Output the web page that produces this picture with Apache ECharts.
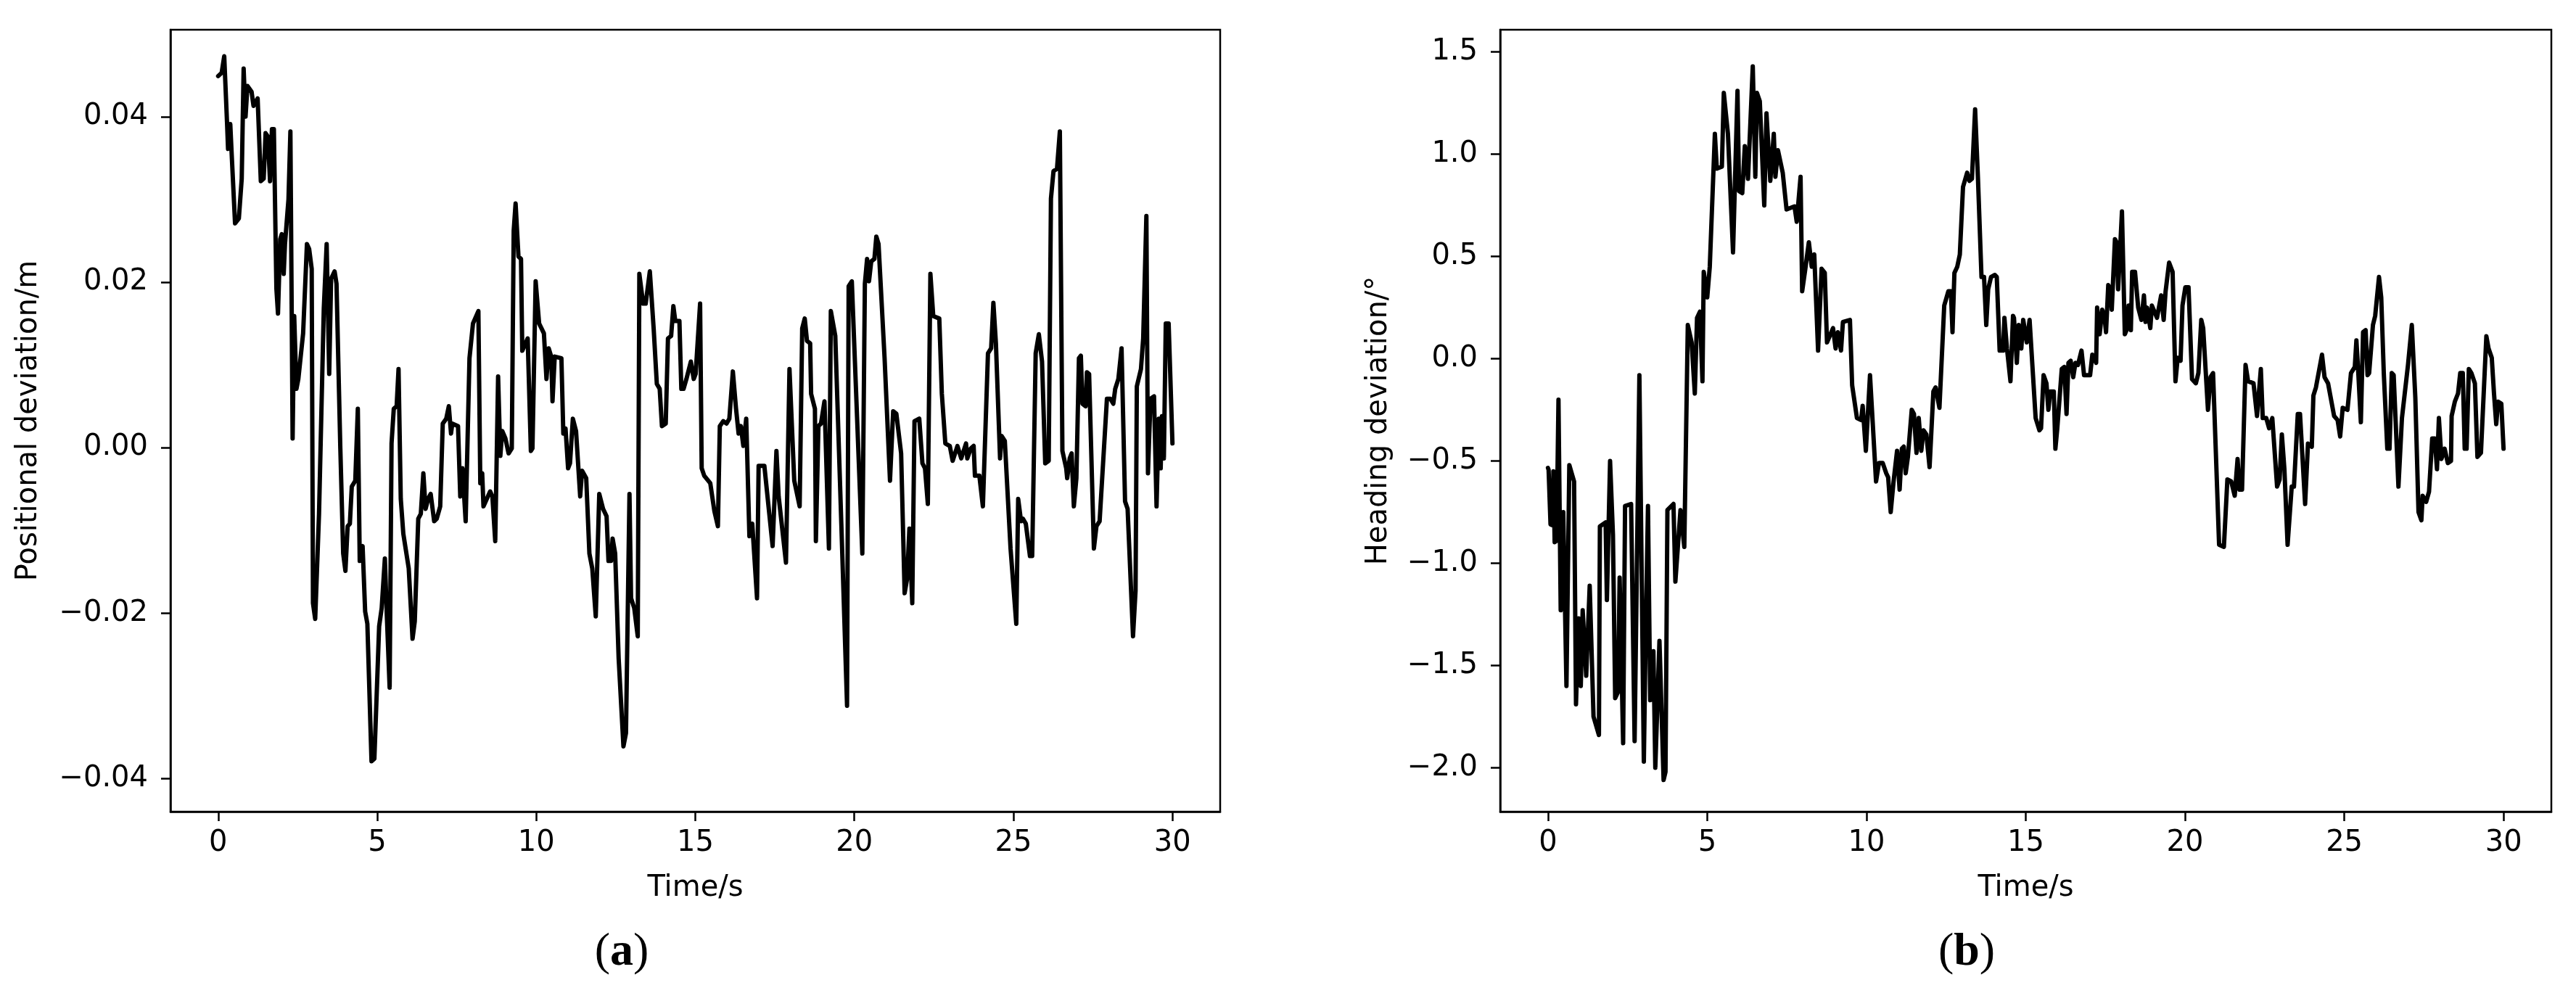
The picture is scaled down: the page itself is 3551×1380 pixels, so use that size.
<!DOCTYPE html>
<html>
<head>
<meta charset="utf-8">
<script src="https://cdn.jsdelivr.net/npm/echarts@6/dist/echarts.min.js"></script>
<style>
html,body{margin:0;padding:0;background:#fff;}
#chart{width:3551px;height:1380px;}
</style>
</head>
<body>
<div id="chart"></div>
<script>
// ---- data: [time (s), value] ----
const positionalDeviation = [
[0,0.0449],[0.11,0.0453],[0.19,0.0473],[0.28,0.0391],[0.31,0.0361],[0.38,0.0391],[0.42,0.0358],[0.53,0.0271],[0.65,0.0277],[0.74,0.0325],
[0.80,0.0458],[0.86,0.0400],[0.92,0.0437],[1.05,0.0430],[1.11,0.0413],[1.24,0.0422],[1.34,0.0322],[1.43,0.0325],[1.49,0.0380],[1.56,0.0376],
[1.63,0.0322],[1.69,0.0385],[1.75,0.0385],[1.83,0.0192],[1.88,0.0162],[1.95,0.0252],[2.00,0.0258],[2.06,0.0210],[2.10,0.0246],[2.21,0.0300],
[2.27,0.0382],[2.34,0.0011],[2.39,0.0159],[2.46,0.0071],[2.52,0.0083],[2.67,0.0138],[2.79,0.0246],[2.86,0.0240],[2.94,0.0216],[2.98,-0.0188],
[3.05,-0.0207],[3.17,-0.0080],[3.32,0.0168],[3.41,0.0246],[3.49,0.0089],[3.55,0.0204],[3.66,0.0213],[3.72,0.0198],[3.84,-0.0001],[3.93,-0.0128],
[4.00,-0.0149],[4.07,-0.0095],[4.14,-0.0092],[4.20,-0.0047],[4.31,-0.0040],[4.39,0.0047],[4.45,-0.0137],[4.54,-0.0119],[4.62,-0.0198],[4.69,-0.0213],
[4.82,-0.0379],[4.91,-0.0376],[5.06,-0.0216],[5.14,-0.0194],[5.24,-0.0134],[5.30,-0.0201],[5.39,-0.0290],[5.45,0.0005],[5.52,0.0047],[5.61,0.0050],
[5.67,0.0095],[5.74,-0.0062],[5.82,-0.0104],[5.99,-0.0146],[6.11,-0.0231],[6.18,-0.0210],[6.29,-0.0086],[6.37,-0.0080],[6.45,-0.0031],[6.52,-0.0074],
[6.60,-0.0062],[6.68,-0.0056],[6.79,-0.0089],[6.87,-0.0086],[6.98,-0.0071],[7.06,0.0029],[7.17,0.0035],[7.25,0.0050],[7.32,0.0017],[7.36,0.0029],
[7.54,0.0026],[7.61,-0.0059],[7.68,-0.0025],[7.78,-0.0089],[7.90,0.0108],[8.01,0.0150],[8.18,0.0165],[8.24,-0.0043],[8.30,-0.0031],[8.34,-0.0071],
[8.55,-0.0053],[8.62,-0.0059],[8.71,-0.0113],[8.80,0.0086],[8.87,-0.0010],[8.93,0.0020],[9.03,0.0011],[9.13,-0.0007],[9.23,-0.0001],[9.29,0.0262],
[9.35,0.0295],[9.44,0.0231],[9.52,0.0228],[9.56,0.0117],[9.73,0.0132],[9.83,-0.0004],[9.88,-0.0001],[9.98,0.0201],[10.09,0.0150],[10.24,0.0138],
[10.32,0.0083],[10.39,0.0120],[10.47,0.0110],[10.51,0.0056],[10.58,0.0110],[10.79,0.0108],[10.85,0.0017],[10.92,0.0023],[11.00,-0.0025],[11.06,-0.0019],
[11.15,0.0035],[11.25,0.0020],[11.38,-0.0059],[11.44,-0.0028],[11.57,-0.0037],[11.67,-0.0128],[11.76,-0.0146],[11.87,-0.0204],[11.98,-0.0056],[12.10,-0.0074],
[12.21,-0.0083],[12.27,-0.0137],[12.35,-0.0137],[12.40,-0.0110],[12.48,-0.0128],[12.59,-0.0255],[12.74,-0.0361],[12.82,-0.0345],[12.93,-0.0056],[12.98,-0.0182],
[13.08,-0.0194],[13.19,-0.0228],[13.24,0.0210],[13.36,0.0174],[13.44,0.0174],[13.57,0.0213],[13.69,0.0144],[13.79,0.0077],[13.88,0.0071],[13.95,0.0026],
[14.07,0.0029],[14.14,0.0132],[14.24,0.0135],[14.31,0.0171],[14.37,0.0153],[14.50,0.0153],[14.56,0.0071],[14.63,0.0071],[14.72,0.0083],[14.86,0.0104],
[14.95,0.0083],[15.01,0.0089],[15.15,0.0174],[15.20,-0.0025],[15.28,-0.0034],[15.47,-0.0043],[15.60,-0.0077],[15.71,-0.0095],[15.77,0.0026],[15.88,0.0032],
[15.98,0.0029],[16.07,0.0035],[16.18,0.0092],[16.28,0.0047],[16.36,0.0017],[16.43,0.0026],[16.51,0.0002],[16.60,0.0035],[16.70,-0.0107],[16.79,-0.0092],
[16.94,-0.0182],[16.99,-0.0022],[17.17,-0.0022],[17.43,-0.0119],[17.55,-0.0004],[17.62,-0.0059],[17.85,-0.0139],[17.96,0.0095],[18.11,-0.0040],[18.28,-0.0071],
[18.36,0.0144],[18.44,0.0156],[18.51,0.0129],[18.61,0.0126],[18.64,0.0065],[18.76,0.0047],[18.79,-0.0113],[18.87,0.0026],[18.95,0.0029],[19.06,0.0056],
[19.20,-0.0122],[19.26,0.0165],[19.40,0.0135],[19.59,-0.0092],[19.77,-0.0312],[19.82,0.0195],[19.92,0.0201],[20.25,-0.0128],[20.33,0.0198],[20.40,0.0228],
[20.46,0.0201],[20.53,0.0225],[20.63,0.0228],[20.69,0.0255],[20.76,0.0246],[20.95,0.0108],[21.12,-0.0040],[21.22,0.0044],[21.32,0.0041],[21.47,-0.0007],
[21.58,-0.0176],[21.66,-0.0158],[21.73,-0.0098],[21.82,-0.0188],[21.89,0.0032],[22.04,0.0035],[22.14,-0.0019],[22.22,-0.0025],[22.31,-0.0068],[22.39,0.0210],
[22.48,0.0159],[22.67,0.0156],[22.75,0.0065],[22.86,0.0005],[23.00,0.0002],[23.09,-0.0016],[23.24,0.0002],[23.36,-0.0013],[23.51,0.0005],[23.55,-0.0013],
[23.66,-0.0001],[23.75,0.0002],[23.79,-0.0034],[23.93,-0.0034],[24.04,-0.0071],[24.20,0.0114],[24.30,0.0120],[24.37,0.0175],[24.45,0.0126],[24.58,-0.0013],
[24.63,0.0014],[24.73,0.0008],[24.91,-0.0122],[25.09,-0.0213],[25.15,-0.0062],[25.24,-0.0089],[25.30,-0.0086],[25.39,-0.0092],[25.52,-0.0131],[25.59,-0.0131],
[25.70,0.0114],[25.80,0.0137],[25.90,0.0104],[26.00,-0.0019],[26.11,-0.0016],[26.18,0.0301],[26.26,0.0334],[26.37,0.0337],[26.46,0.0382],[26.54,-0.0004],
[26.66,-0.0025],[26.69,-0.0037],[26.77,-0.0013],[26.83,-0.0007],[26.90,-0.0071],[26.98,-0.0037],[27.06,0.0108],[27.12,0.0111],[27.17,0.0053],[27.27,0.0050],
[27.31,0.0091],[27.38,0.0089],[27.53,-0.0122],[27.61,-0.0095],[27.71,-0.0089],[27.94,0.0059],[28.05,0.0059],[28.14,0.0053],[28.20,0.0071],[28.30,0.0083],
[28.40,0.0120],[28.51,-0.0065],[28.59,-0.0074],[28.76,-0.0228],[28.84,-0.0173],[28.88,0.0074],[29.01,0.0095],[29.08,0.0132],[29.18,0.0280],[29.23,-0.0031],
[29.31,0.0059],[29.42,0.0062],[29.50,-0.0071],[29.57,0.0035],[29.63,-0.0025],[29.67,0.0038],[29.73,-0.0013],[29.79,0.0150],[29.88,0.0150],[30.00,0.0005]
];

const headingDeviation = [
[0.00,-0.534],[0.02,-0.543],[0.08,-0.81],[0.15,-0.815],[0.17,-0.55],[0.21,-0.897],[0.27,-0.89],[0.33,-0.20],[0.40,-1.23],[0.48,-0.75],
[0.58,-1.60],[0.67,-0.52],[0.82,-0.60],[0.88,-1.69],[0.96,-1.27],[1.03,-1.60],[1.09,-1.23],[1.20,-1.55],[1.31,-1.11],[1.43,-1.75],
[1.60,-1.84],[1.63,-0.82],[1.81,-0.80],[1.85,-1.18],[1.95,-0.50],[2.04,-0.86],[2.11,-1.66],[2.20,-1.63],[2.25,-1.07],[2.36,-1.88],
[2.42,-0.72],[2.61,-0.71],[2.72,-1.87],[2.87,-0.08],[3.01,-1.97],[3.06,-1.43],[3.14,-0.72],[3.21,-1.67],[3.31,-1.43],[3.37,-2.00],
[3.50,-1.38],[3.63,-2.06],[3.69,-2.02],[3.75,-0.74],[3.94,-0.71],[4.00,-1.09],[4.16,-0.74],[4.28,-0.92],[4.39,0.165],[4.51,0.08],
[4.61,-0.17],[4.68,0.20],[4.77,0.23],[4.85,-0.11],[4.89,0.425],[5.00,0.30],[5.08,0.45],[5.24,1.10],[5.30,0.93],[5.46,0.94],
[5.52,1.30],[5.65,1.10],[5.81,0.52],[5.95,1.31],[6.00,0.82],[6.10,0.81],[6.18,1.04],[6.28,0.88],[6.43,1.43],[6.51,0.89],
[6.56,1.30],[6.65,1.26],[6.79,0.75],[6.86,1.20],[6.98,0.87],[7.09,1.10],[7.14,0.89],[7.22,1.02],[7.37,0.91],[7.49,0.73],
[7.74,0.745],[7.81,0.67],[7.93,0.89],[7.98,0.33],[8.08,0.44],[8.19,0.57],[8.28,0.45],[8.36,0.51],[8.48,0.04],[8.59,0.44],
[8.69,0.42],[8.76,0.08],[8.95,0.15],[9.03,0.05],[9.10,0.13],[9.20,0.04],[9.26,0.18],[9.48,0.19],[9.55,-0.13],[9.70,-0.29],
[9.83,-0.30],[9.88,-0.23],[9.98,-0.45],[10.11,-0.08],[10.30,-0.60],[10.39,-0.51],[10.51,-0.51],[10.62,-0.56],[10.68,-0.58],[10.76,-0.75],
[10.85,-0.60],[10.96,-0.45],[11.04,-0.64],[11.11,-0.44],[11.17,-0.43],[11.23,-0.56],[11.30,-0.48],[11.42,-0.25],[11.49,-0.27],[11.57,-0.46],
[11.64,-0.29],[11.72,-0.45],[11.79,-0.35],[11.88,-0.37],[11.98,-0.53],[12.10,-0.16],[12.17,-0.14],[12.29,-0.24],[12.44,0.26],[12.57,0.33],
[12.65,0.33],[12.70,0.13],[12.76,0.42],[12.85,0.45],[12.93,0.51],[13.03,0.84],[13.16,0.91],[13.23,0.87],[13.31,0.88],[13.41,1.22],
[13.50,0.88],[13.61,0.40],[13.69,0.40],[13.76,0.165],[13.82,0.34],[13.91,0.40],[14.03,0.41],[14.09,0.40],[14.18,0.04],[14.29,0.04],
[14.33,0.20],[14.41,0.05],[14.52,-0.11],[14.60,0.21],[14.63,0.20],[14.72,-0.02],[14.78,0.165],[14.86,0.05],[14.92,0.19],[15.03,0.08],
[15.12,0.19],[15.31,-0.29],[15.43,-0.35],[15.48,-0.34],[15.56,-0.08],[15.65,-0.12],[15.71,-0.25],[15.77,-0.16],[15.88,-0.16],[15.93,-0.44],
[15.99,-0.34],[16.13,-0.05],[16.21,-0.04],[16.28,-0.27],[16.34,-0.02],[16.41,-0.01],[16.49,-0.09],[16.56,-0.02],[16.64,-0.03],[16.75,0.04],
[16.83,-0.08],[17.02,-0.08],[17.09,0.02],[17.21,-0.02],[17.24,0.25],[17.32,0.12],[17.40,0.24],[17.47,0.21],[17.52,0.13],[17.59,0.36],
[17.66,0.34],[17.70,0.24],[17.80,0.585],[17.85,0.57],[17.90,0.34],[18.02,0.72],[18.11,0.12],[18.19,0.15],[18.23,0.26],[18.30,0.14],
[18.34,0.425],[18.43,0.425],[18.53,0.25],[18.63,0.19],[18.71,0.31],[18.76,0.18],[18.81,0.25],[18.91,0.15],[18.96,0.26],[19.12,0.20],
[19.25,0.31],[19.33,0.19],[19.39,0.33],[19.50,0.47],[19.61,0.425],[19.70,-0.11],[19.77,0.005],[19.86,-0.01],[19.92,0.26],[20.01,0.35],
[20.11,0.35],[20.22,-0.10],[20.34,-0.12],[20.42,-0.07],[20.51,0.19],[20.57,0.15],[20.72,-0.25],[20.80,-0.09],[20.88,-0.07],[21.07,-0.91],
[21.22,-0.92],[21.33,-0.59],[21.45,-0.60],[21.56,-0.67],[21.65,-0.49],[21.71,-0.64],[21.79,-0.64],[21.90,-0.03],[21.98,-0.11],[22.15,-0.12],
[22.26,-0.28],[22.38,-0.05],[22.44,-0.29],[22.55,-0.29],[22.64,-0.34],[22.74,-0.29],[22.89,-0.625],[22.97,-0.59],[23.04,-0.37],[23.12,-0.54],
[23.22,-0.91],[23.35,-0.625],[23.42,-0.625],[23.54,-0.27],[23.61,-0.27],[23.77,-0.71],[23.86,-0.415],[23.98,-0.43],[24.03,-0.18],[24.11,-0.14],
[24.30,0.02],[24.38,-0.09],[24.49,-0.12],[24.68,-0.28],[24.79,-0.30],[24.87,-0.38],[24.95,-0.24],[25.10,-0.25],[25.21,-0.07],[25.33,-0.04],
[25.38,0.09],[25.44,-0.07],[25.52,-0.31],[25.59,0.13],[25.67,0.14],[25.73,-0.08],[25.78,-0.07],[25.90,0.165],[25.97,0.21],[26.09,0.40],
[26.16,0.30],[26.24,-0.07],[26.35,-0.44],[26.42,-0.44],[26.49,-0.07],[26.55,-0.08],[26.70,-0.625],[26.81,-0.29],[27.00,-0.03],[27.12,0.165],
[27.23,-0.19],[27.33,-0.75],[27.42,-0.79],[27.46,-0.67],[27.57,-0.70],[27.66,-0.65],[27.76,-0.39],[27.84,-0.39],[27.91,-0.54],[27.97,-0.29],
[28.05,-0.49],[28.15,-0.44],[28.25,-0.51],[28.35,-0.50],[28.37,-0.28],[28.47,-0.21],[28.57,-0.17],[28.64,-0.07],[28.72,-0.07],[28.78,-0.44],
[28.84,-0.44],[28.91,-0.05],[28.99,-0.07],[29.10,-0.12],[29.18,-0.48],[29.29,-0.46],[29.46,0.11],[29.53,0.05],[29.63,0.005],[29.70,-0.17],
[29.77,-0.32],[29.83,-0.21],[29.93,-0.22],[30.00,-0.44]
];

const timeTicks = [0, 5, 10, 15, 20, 25, 30];
const posTicks = [-0.04, -0.02, 0.00, 0.02, 0.04];
const headTicks = [-2.0, -1.5, -1.0, -0.5, 0.0, 0.5, 1.0, 1.5];
const xAxisName = 'Time/s';
const yNameA = 'Positional deviation/m';
const yNameB = 'Heading deviation/°';

// ---- rendering ----
const FONT = 'DejaVu Sans';
const FS = 40;
const minus = s => s.replace('-', '\u2212');
function fmt(dec) {
  return v => {
    if (Math.abs(v) < 1e-12) v = 0;
    return minus(v.toFixed(dec));
  };
}
function xAxisCfg(gridIndex) {
  return {
    type: 'value', gridIndex: gridIndex, min: -1.5, max: 31.5,
    name: xAxisName, nameLocation: 'middle', nameGap: 86,
    nameTextStyle: {fontFamily: FONT, fontSize: FS, color: '#000'},
    axisLine: {show: true, onZero: false, lineStyle: {color: '#000', width: 2.5}},
    axisTick: {show: true, length: 13, inside: false, customValues: timeTicks, lineStyle: {color: '#000', width: 2.5}},
    axisLabel: {show: true, margin: 24, customValues: timeTicks, formatter: v => String(Math.round(v)),
      fontFamily: FONT, fontSize: FS, color: '#000'},
    splitLine: {show: false}
  };
}
function yAxisCfg(gridIndex, min, max, ticks, dec, name, gap) {
  return {
    type: 'value', gridIndex: gridIndex, min: min, max: max,
    name: name, nameLocation: 'middle', nameGap: gap, nameRotate: 90,
    nameTextStyle: {fontFamily: FONT, fontSize: FS, color: '#000'},
    axisLine: {show: true, onZero: false, lineStyle: {color: '#000', width: 2.5}},
    axisTick: {show: true, length: 13, inside: false, customValues: ticks, lineStyle: {color: '#000', width: 2.5}},
    axisLabel: {show: true, margin: 31, customValues: ticks, formatter: fmt(dec),
      fontFamily: FONT, fontSize: FS, color: '#000'},
    splitLine: {show: false}
  };
}

const chart = echarts.init(document.getElementById('chart'), null, {renderer: 'canvas'});
chart.setOption({
  animation: false,
  backgroundColor: '#fff',
  grid: [
    {left: 235, top: 41, width: 1447, height: 1078, show: true, borderColor: '#000', borderWidth: 2.5, backgroundColor: 'transparent'},
    {left: 2068, top: 41, width: 1449, height: 1078, show: true, borderColor: '#000', borderWidth: 2.5, backgroundColor: 'transparent'}
  ],
  xAxis: [xAxisCfg(0), xAxisCfg(1)],
  yAxis: [
    yAxisCfg(0, -0.0440, 0.0505, posTicks, 2, yNameA, 175),
    yAxisCfg(1, -2.215, 1.609, headTicks, 1, yNameB, 147)
  ],
  series: [
    {type: 'line', xAxisIndex: 0, yAxisIndex: 0, data: positionalDeviation, showSymbol: false, symbol: 'none',
      lineStyle: {color: '#000', width: 6, join: 'round', cap: 'round'}, silent: true, clip: true},
    {type: 'line', xAxisIndex: 1, yAxisIndex: 1, data: headingDeviation, showSymbol: false, symbol: 'none',
      lineStyle: {color: '#000', width: 6, join: 'round', cap: 'round'}, silent: true, clip: true}
  ],
  graphic: [
    {type: 'text', x: 857, y: 1313, style: {text: '{p|(}{b|a}{p|)}', textAlign: 'center', textVerticalAlign: 'middle',
      rich: {p: {fontFamily: 'Liberation Serif', fontSize: 64, fill: '#000'}, b: {fontFamily: 'Liberation Serif', fontSize: 64, fontWeight: 'bold', fill: '#000'}}}},
    {type: 'text', x: 2711, y: 1313, style: {text: '{p|(}{b|b}{p|)}', textAlign: 'center', textVerticalAlign: 'middle',
      rich: {p: {fontFamily: 'Liberation Serif', fontSize: 64, fill: '#000'}, b: {fontFamily: 'Liberation Serif', fontSize: 64, fontWeight: 'bold', fill: '#000'}}}}
  ]
});
</script>
</body>
</html>
